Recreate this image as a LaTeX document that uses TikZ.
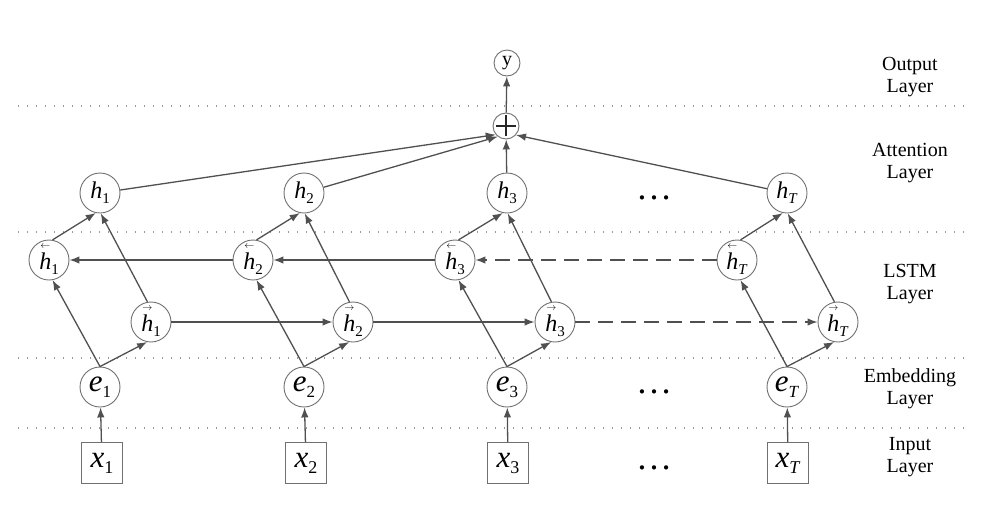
\documentclass[tikz,border=0pt]{standalone}
\usepackage{fontspec}
\setmainfont{Liberation Serif}
\usetikzlibrary{arrows.meta}
\definecolor{ln}{HTML}{505050}
\definecolor{cg}{HTML}{707070}
\newcommand{\hs}[1]{{\fontsize{24}{24}\selectfont\textit{h}}\raisebox{-5pt}{\fontsize{15}{15}\selectfont #1}}
\newcommand{\hbk}[1]{\makebox[0pt][l]{\raisebox{21pt}{\hspace{1pt}\fontsize{10}{10}\selectfont$\leftarrow$}}\hs{#1}}
\newcommand{\hfw}[1]{\makebox[0pt][l]{\raisebox{21pt}{\hspace{1pt}\fontsize{10}{10}\selectfont$\rightarrow$}}\hs{#1}}
\newcommand{\es}[1]{{\fontsize{31}{31}\selectfont\textit{e}}\raisebox{-6pt}{\fontsize{17}{17}\selectfont #1}}
\newcommand{\xs}[1]{{\fontsize{31}{31}\selectfont\textit{x}}\raisebox{-6pt}{\fontsize{18}{18}\selectfont #1}}
\tikzset{
  neuron/.style={circle, draw=cg, line width=0.9pt, minimum size=40pt, inner sep=0pt, fill=white},
  smallnode/.style={circle, draw=cg, line width=0.9pt, minimum size=26pt, inner sep=0pt, fill=white},
  inbox/.style={rectangle, draw=cg, line width=0.9pt, minimum width=41pt, minimum height=41pt, inner sep=0pt, fill=white},
  conn/.style={draw=ln, line width=1.3pt, -{Latex[length=10pt,width=7.5pt]}},
  dconn/.style={conn, dash pattern=on 15pt off 8pt},
  sepline/.style={draw=black!40, line width=1.2pt, dash pattern=on 1.4pt off 7.6pt},
  lbl/.style={align=center, font=\fontsize{20}{22}\selectfont},
  ellip/.style={anchor=base, font=\fontsize{36}{36}\selectfont, inner sep=0pt, text=black}
}
\begin{document}
\begin{tikzpicture}[x=1pt, y=-1pt]
\useasboundingbox (0,0) rectangle (988,504);
% separators
\foreach \yy in {106,232,358,428} \draw[sepline] (18,\yy) -- (970,\yy);
% labels
\node[lbl] (lout) at (910,77) {Output\\Layer};
\node[lbl] (latt) at (910,163) {Attention\\Layer};
\node[lbl] (llstm) at (910,284) {LSTM\\Layer};
\node[lbl] (lemb) at (910,389) {Embedding\\Layer};
\node[lbl] (linp) at (910,457) {Input\\Layer};
% output nodes
\node[smallnode, font=\fontsize{20}{20}\selectfont] (y) at (507,63) {y};
\node[smallnode] (plus) at (506,126) {};
\draw[line width=1.5pt, black!85] ([xshift=-10pt]plus.center) -- ([xshift=10pt]plus.center)
  ([yshift=-10pt]plus.center) -- ([yshift=11pt]plus.center);
% column 1
\node[neuron] (h1) at (100,193) {\hs{1}};
\node[neuron] (hb1) at (49,260) {\hbk{1}};
\node[neuron] (hf1) at (151,322) {\hfw{1}};
\node[neuron] (e1) at (100,387) {\es{1}};
\node[inbox] (x1) at (102,463) {\xs{1}};
% column 2
\node[neuron] (h2) at (304,193) {\hs{2}};
\node[neuron] (hb2) at (253,260) {\hbk{2}};
\node[neuron] (hf2) at (353,322) {\hfw{2}};
\node[neuron] (e2) at (304,387) {\es{2}};
\node[inbox] (x2) at (306,463) {\xs{2}};
% column 3
\node[neuron] (h3) at (507,193) {\hs{3}};
\node[neuron] (hb3) at (455,260) {\hbk{3}};
\node[neuron] (hf3) at (555,322) {\hfw{3}};
\node[neuron] (e3) at (507,387) {\es{3}};
\node[inbox] (x3) at (508,463) {\xs{3}};
% column T
\node[neuron] (hT) at (787,193) {\hs{\textit{T}}};
\node[neuron] (hbT) at (737,260) {\hbk{\textit{T}}};
\node[neuron] (hfT) at (838,322) {\hfw{\textit{T}}};
\node[neuron] (eT) at (787,387) {\es{\textit{T}}};
\node[inbox] (xT) at (788,463) {\xs{\textit{T}}};
% ellipses
\node[ellip] (d1) at (654,199) {…};
\node[ellip] (d2) at (654,393) {…};
\node[ellip] (d3) at (654,469) {…};
% column connectors
\foreach \c in {1,2,3,T} {
  \draw[conn] (x\c) -- (e\c);
  \draw[conn] (e\c.north) -- (hb\c.280);
  \draw[conn] (e\c.north) -- (hf\c.259);
  \draw[conn] (hb\c.80) -- (h\c.258);
  \draw[conn] (hf\c.100) -- (h\c.272);
}
% recurrent
\draw[conn] (hf1) -- (hf2);
\draw[conn] (hf2) -- (hf3);
\draw[dconn] (hf3) -- (hfT);
\draw[conn] (hb2) -- (hb1);
\draw[conn] (hb3) -- (hb2);
\draw[dconn] (hbT) -- (hb3);
% attention
\draw[conn] (h1) -- (plus.220);
\draw[conn] (h2) -- (plus.232);
\draw[conn] (h3) -- (plus);
\draw[conn] (hT) -- (plus.318);
\draw[conn] (plus) -- (y);
\end{tikzpicture}
\end{document}
